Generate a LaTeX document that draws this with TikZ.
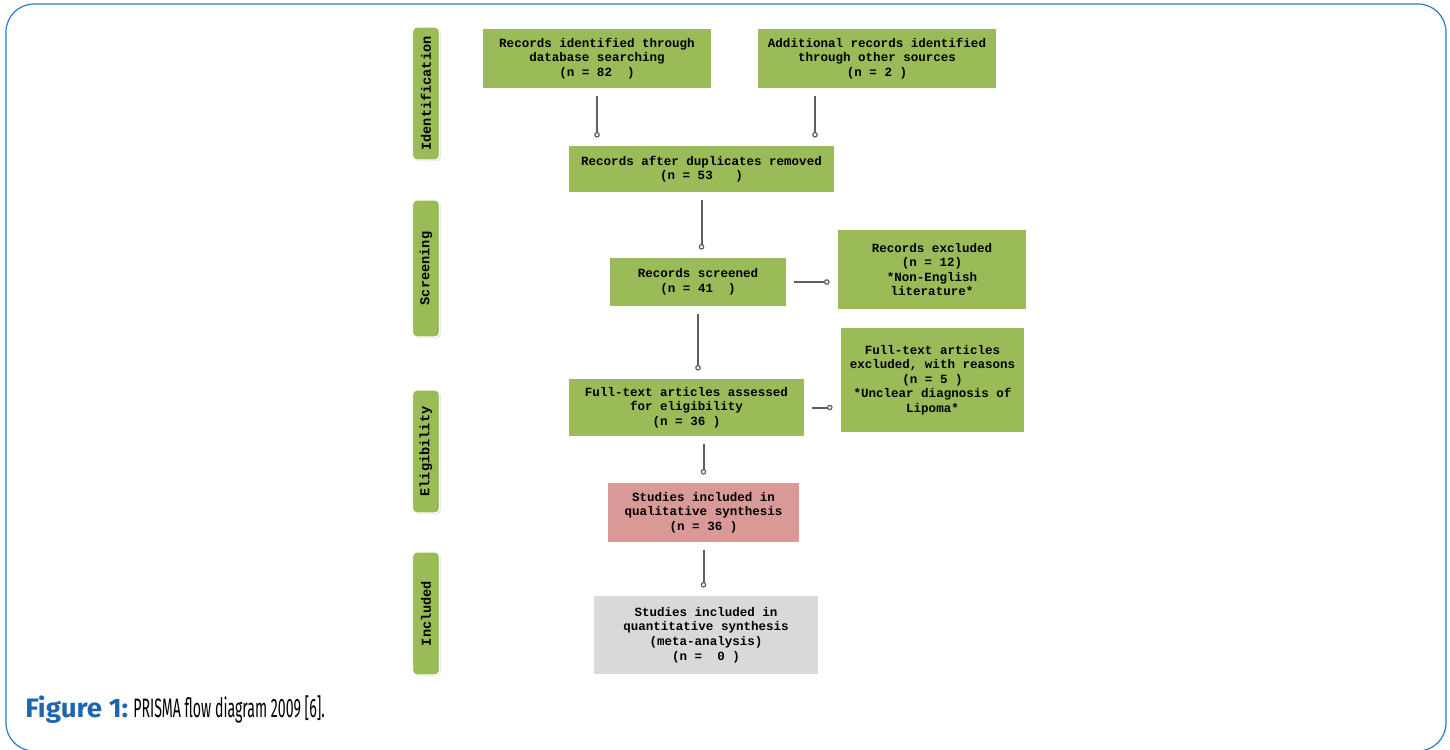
\documentclass[tikz,border=0pt]{standalone}
\usepackage{fontspec}
\setmonofont{Liberation Mono}
\newfontfamily\capfont[FakeStretch=0.53]{Fira Sans}
\newfontfamily\capbold[FakeStretch=1.04]{Fira Sans Bold}
\usepackage{tikz}
\usetikzlibrary{
  positioning,
  arrows.meta,
  calc,
  shadows
}
\usepackage{xcolor}
\definecolor{olive}{HTML}{9BBB59}
\definecolor{rose}{HTML}{D99A97}
\definecolor{pale}{HTML}{D9D9D9}
\definecolor{frame}{HTML}{2A7BC8}
\definecolor{figblue}{HTML}{1F66B0}
\definecolor{wire}{HTML}{5E5E5E}

\begin{document}
\begin{tikzpicture}[
  x=0.75pt, y=-0.75pt,
  box/.style={draw=white, line width=1.1pt, fill=olive, inner sep=0pt, align=center,
              font=\ttfamily\bfseries\fontsize{9.4}{10.9}\selectfont,
              drop shadow={shadow xshift=0.8pt, shadow yshift=-0.8pt, fill=black!30, opacity=0.5}},
  phase/.style={box, rounded corners=3pt, rotate=90, minimum height=20.25pt,
                font=\ttfamily\bfseries\fontsize{10.2}{12}\selectfont},
  link/.style={draw=wire, line width=1.5pt, shorten <=4.5pt, shorten >=5pt,
               -{Circle[open, length=4.2pt, width=4.2pt, line width=0.9pt]}}
]
  \useasboundingbox (0,0) rectangle (1450,750);
  \draw[frame, line width=0.9pt, rounded corners=21pt] (6,4) rectangle (1446,751);

  % Phase labels
  \node[phase, minimum width=99.75pt] (pid) at (426,93.5) {Identification};
  \node[phase, minimum width=102.75pt] (pscr) at (426,268.5) {Screening};
  \node[phase, minimum width=92.25pt] (pelig) at (426,451.5) {Eligibility};
  \node[phase, minimum width=92.25pt] (pincl) at (426,613.5) {Included};

  % Identification
  \node[box, minimum width=172.5pt, minimum height=45.75pt] (db) at (597,58.5)
    {Records identified through\\database searching\\(n = 82~~)};
  \node[box, minimum width=180pt, minimum height=45.75pt] (add) at (877,58.5)
    {Additional records identified\\through other sources\\(n = 2 )};
  \node[box, minimum width=200.25pt, minimum height=36pt] (dup) at (701.5,169)
    {Records after duplicates removed\\(n = 53~~~)};

  % Screening
  \node[box, minimum width=133.5pt, minimum height=37.5pt] (scr) at (698,282)
    {Records screened\\(n = 41~~)};
  \node[box, minimum width=142.5pt, minimum height=60.75pt] (exc) at (932,269.5)
    {Records excluded\\(n = 12)\\*Non-English\\literature*};

  % Eligibility
  \node[box, minimum width=177.75pt, minimum height=44.25pt] (full) at (686.5,407.5)
    {Full-text articles assessed\\for eligibility\\(n = 36 )};
  \node[box, minimum width=138.75pt, minimum height=79.5pt] (fexc) at (932.5,380)
    {Full-text articles\\excluded, with reasons\\(n = 5 )\\*Unclear diagnosis of\\Lipoma*};

  % Included
  \node[box, fill=rose, minimum width=144.75pt, minimum height=45.75pt] (qual) at (703.5,512.5)
    {Studies included in\\qualitative synthesis\\(n = 36 )};
  \node[box, fill=pale, minimum width=169.5pt, minimum height=60pt] (quant) at (706,635)
    {Studies included in\\quantitative synthesis\\(meta-analysis)\\(n = ~0 )};

  % Connectors
  \draw[link] (db.south) -- (db.south |- dup.north);
  \draw[link] ([xshift=-46.5pt]add.south) -- ([xshift=-46.5pt]add.south |- dup.north);
  \draw[link] (dup.south) -- (dup.south |- scr.north);
  \draw[link] (scr.east) -- (scr.east -| exc.west);
  \draw[link] (scr.south) -- (scr.south |- full.north);
  \draw[link] (full.east) -- (full.east -| fexc.west);
  \draw[link] (qual.north |- full.south) -- (qual.north);
  \draw[link] (qual.south) -- (qual.south |- quant.north);

  % Caption
  \node[anchor=base west, inner sep=0pt, font=\capfont\fontsize{20}{24}\selectfont] (cap) at (25,717)
    {\textcolor{figblue}{\capbold Figure 1:} PRISMA flow diagram 2009 [6].};
\end{tikzpicture}
\end{document}
